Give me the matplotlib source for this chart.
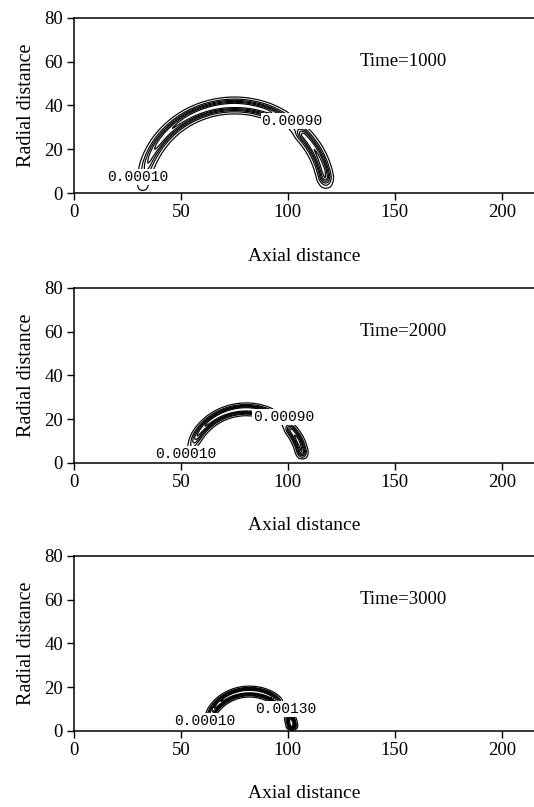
import numpy as np
import matplotlib.pyplot as plt

plt.rcParams['font.family'] = ['Liberation Serif', 'DejaVu Serif']

# panel titles
time_labels = ['Time=1000', 'Time=2000', 'Time=3000']

# shell geometry (centre on the axis, semi-axes, band half width)
shell_cx = [75.0, 80.5, 82.0]
shell_a = [43.0, 26.5, 20.0]
shell_b = [40.0, 24.5, 18.0]
shell_w = [2.5, 1.9, 1.6]

# peak concentration (x 1e-4) along the shell, by angle from the axis (deg)
theta_1 = [0, 3, 6, 10, 15, 30, 42, 47, 52, 58, 70, 90, 120, 145, 160, 168, 175, 177.5, 179, 180]
peak_1 = [0.2, 0.8, 4, 11, 12, 11, 10, 4, 2, 9, 12, 13, 12, 10, 7, 4, 2.5, 1.5, 0.5, 0.2]
theta_2 = [0, 4, 7, 12, 25, 38, 44, 52, 60, 66, 80, 100, 130, 150, 160, 168, 175, 180]
peak_2 = [0.2, 0.6, 4, 11, 12, 10, 3, 0.3, 3, 10, 13, 13, 12, 9, 4, 1.5, 0.5, 0.2]
theta_3 = [0, 2, 6, 12, 18, 24, 32, 42, 50, 60, 80, 100, 125, 145, 158, 166, 172, 180]
peak_3 = [0.3, 2, 13, 16, 13, 3, 0.3, 0.5, 8, 14, 15, 15, 14, 11, 6, 2, 0.6, 0.2]
thetas = [theta_1, theta_2, theta_3]
peaks = [peak_1, peak_2, peak_3]

# contour levels
levels_1 = [0.0001, 0.0003, 0.0005, 0.0007, 0.0009, 0.0011]
levels_2 = [0.0001, 0.0003, 0.0005, 0.0007, 0.0009, 0.0011]
levels_3 = [0.0001, 0.0003, 0.0005, 0.0007, 0.0009, 0.0011, 0.0013]
levels = [levels_1, levels_2, levels_3]

# contour labels (text, x, y)
low_labels = [('0.00010', 30, 7.4), ('0.00010', 52, 4.2), ('0.00010', 61, 4.5)]
high_labels = [('0.00090', 102, 33), ('0.00090', 98, 21), ('0.00130', 99, 10)]

xticks = [0, 50, 100, 150, 200]
yticks = [0, 20, 40, 60, 80]

fig = plt.figure(figsize=(5.34, 8.07), dpi=100)
bottoms = [0.7608, 0.4263, 0.0942]
height = 0.217

xg = np.linspace(0, 215, 861)
yg = np.linspace(-5, 80, 341)
X, Y = np.meshgrid(xg, yg)

for i in range(3):
    ax = fig.add_axes([0.1386, bottoms[i], 0.8614, height])

    # concentration field on the shell
    u = (X - shell_cx[i]) / shell_a[i]
    v = np.abs(Y) / shell_b[i]
    rn = np.sqrt(u ** 2 + v ** 2)
    dist = (rn - 1.0) * (shell_a[i] + shell_b[i]) / 2
    ang = np.degrees(np.arctan2(v, u))
    pk = np.interp(ang, thetas[i], peaks[i]) * 1e-4
    Z = pk * np.exp(-(dist / shell_w[i]) ** 2)

    ax.contour(X, Y, Z, levels=levels[i], colors='black', linewidths=0.85)

    for txt, tx, ty in [low_labels[i], high_labels[i]]:
        ax.text(tx, ty, txt, ha='center', va='center', fontsize=10.5,
                family=['Liberation Mono', 'DejaVu Sans Mono'], zorder=5,
                bbox=dict(facecolor='white', edgecolor='none', pad=0.5))

    ax.text(133.5, 60, time_labels[i], ha='left', va='center', fontsize=13.5)

    ax.set_xlim(0, 215)
    ax.set_ylim(0, 80)
    ax.set_xticks(xticks)
    ax.set_yticks(yticks)
    ax.tick_params(labelsize=13.5, length=5, width=1, pad=3, direction='out')
    ax.spines['right'].set_visible(False)
    for s in ['left', 'bottom', 'top']:
        ax.spines[s].set_linewidth(1.1)
    ax.set_xlabel('Axial distance', fontsize=14, labelpad=19)
    ax.set_ylabel('Radial distance', fontsize=14.5, labelpad=6)

plt.savefig('out.png', dpi=100)
